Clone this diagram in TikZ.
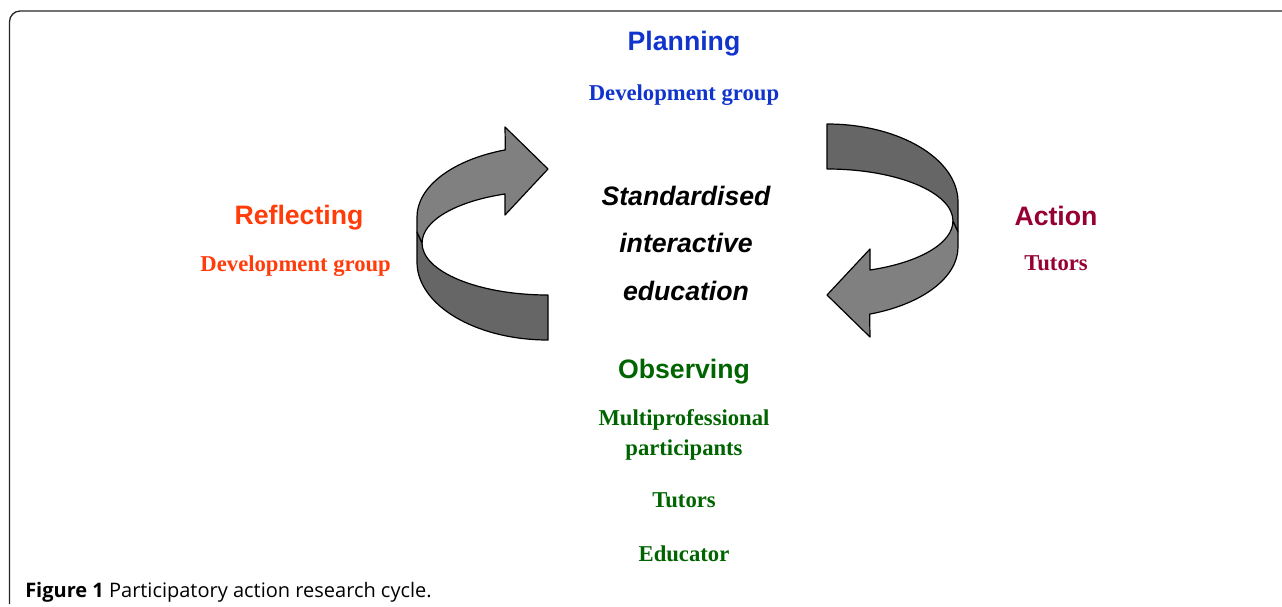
\documentclass[tikz,border=0pt]{standalone}
\usepackage{fontspec}
\setmainfont{Liberation Serif}
\setsansfont{Liberation Sans}
\newfontfamily\captionfont{Open Sans}
\usetikzlibrary{positioning}
\definecolor{planColor}{RGB}{16,52,204}
\definecolor{reflectColor}{RGB}{255,60,10}
\definecolor{actionColor}{RGB}{150,0,50}
\definecolor{observeColor}{RGB}{0,100,0}
\definecolor{ribbonLight}{RGB}{128,128,128}
\definecolor{ribbonDark}{RGB}{102,102,102}
\tikzset{stage/.style={font=\sffamily\bfseries\fontsize{20}{24}\selectfont, anchor=base, inner sep=0pt}}
\tikzset{actor/.style={font=\rmfamily\bfseries\fontsize{17}{22.5}\selectfont, align=center, anchor=base, inner sep=0pt}}
\tikzset{ribbon/.style={draw=black, line width=0.9pt, line join=round}}

% one curved ribbon arrow, tail at the bottom right, head at the top right
\newcommand{\ribbonarrow}{%
    \path[ribbon, fill=ribbonDark] (417,232) -- (417,262)
        arc[start angle=180, end angle=90, x radius=131, y radius=78] -- (548,295)
        arc[start angle=90, end angle=180, x radius=126, y radius=52] -- cycle;
    \path[ribbon, fill=ribbonLight] (417,217)
        arc[start angle=180, end angle=251, x radius=131, y radius=71]
        -- (505,127) -- (548,169) -- (505,215) -- (505,194)
        arc[start angle=250, end angle=180, x radius=126, y radius=52]
        -- (417,232) -- cycle;
}

\begin{document}
\begin{tikzpicture}[x=0.75pt, y=-0.75pt]
\useasboundingbox (0,0) rectangle (1282,607);

% Frame
\draw[line width=1pt, draw=black!85, rounded corners=8pt] (9.5,604) -- (9.5,11) -- (1282,11);

% Nodes
    \node (planning) [stage, text=planColor] at (684,50) {Planning};
    \node (planningGroup) [actor, text=planColor, below=37.5pt of planning.base, anchor=base] {Development group};

    \node (action) [stage, text=actionColor] at (1056,225) {Action};
    \node (actionTutors) [actor, text=actionColor, below=34pt of action.base, anchor=base] {Tutors};

    \node (reflecting) [stage, text=reflectColor] at (299,224) {Reflecting};
    \node (reflectingGroup) [actor, text=reflectColor, below=35.25pt of reflecting.base, anchor=base, xshift=-2.5pt] {Development group};

    \node (education) [stage, font=\sffamily\bfseries\itshape\fontsize{20}{35.6}\selectfont, align=center] at (686,300) {Standardised\\ interactive\\ education};

    \node (observing) [stage, text=observeColor] at (684,378) {Observing};
    \node (participants) [actor, text=observeColor, below=57.75pt of observing.base, anchor=base] {Multiprofessional\\ participants};
    \node (observingTutors) [actor, text=observeColor, below=39pt of participants.base, anchor=base] {Tutors};
    \node (educator) [actor, text=observeColor, below=40.5pt of observingTutors.base, anchor=base] {Educator};

    \node (caption) [anchor=base west, inner sep=0pt, font=\captionfont\fontsize{15}{17}\selectfont] at (25,597) {\textbf{Figure 1} Participatory action research cycle.};

% Ribbon arrows
    \ribbonarrow
\begin{scope}[rotate around={180:(687.5,232)}]
    \ribbonarrow
\end{scope}

\end{tikzpicture}
\end{document}
